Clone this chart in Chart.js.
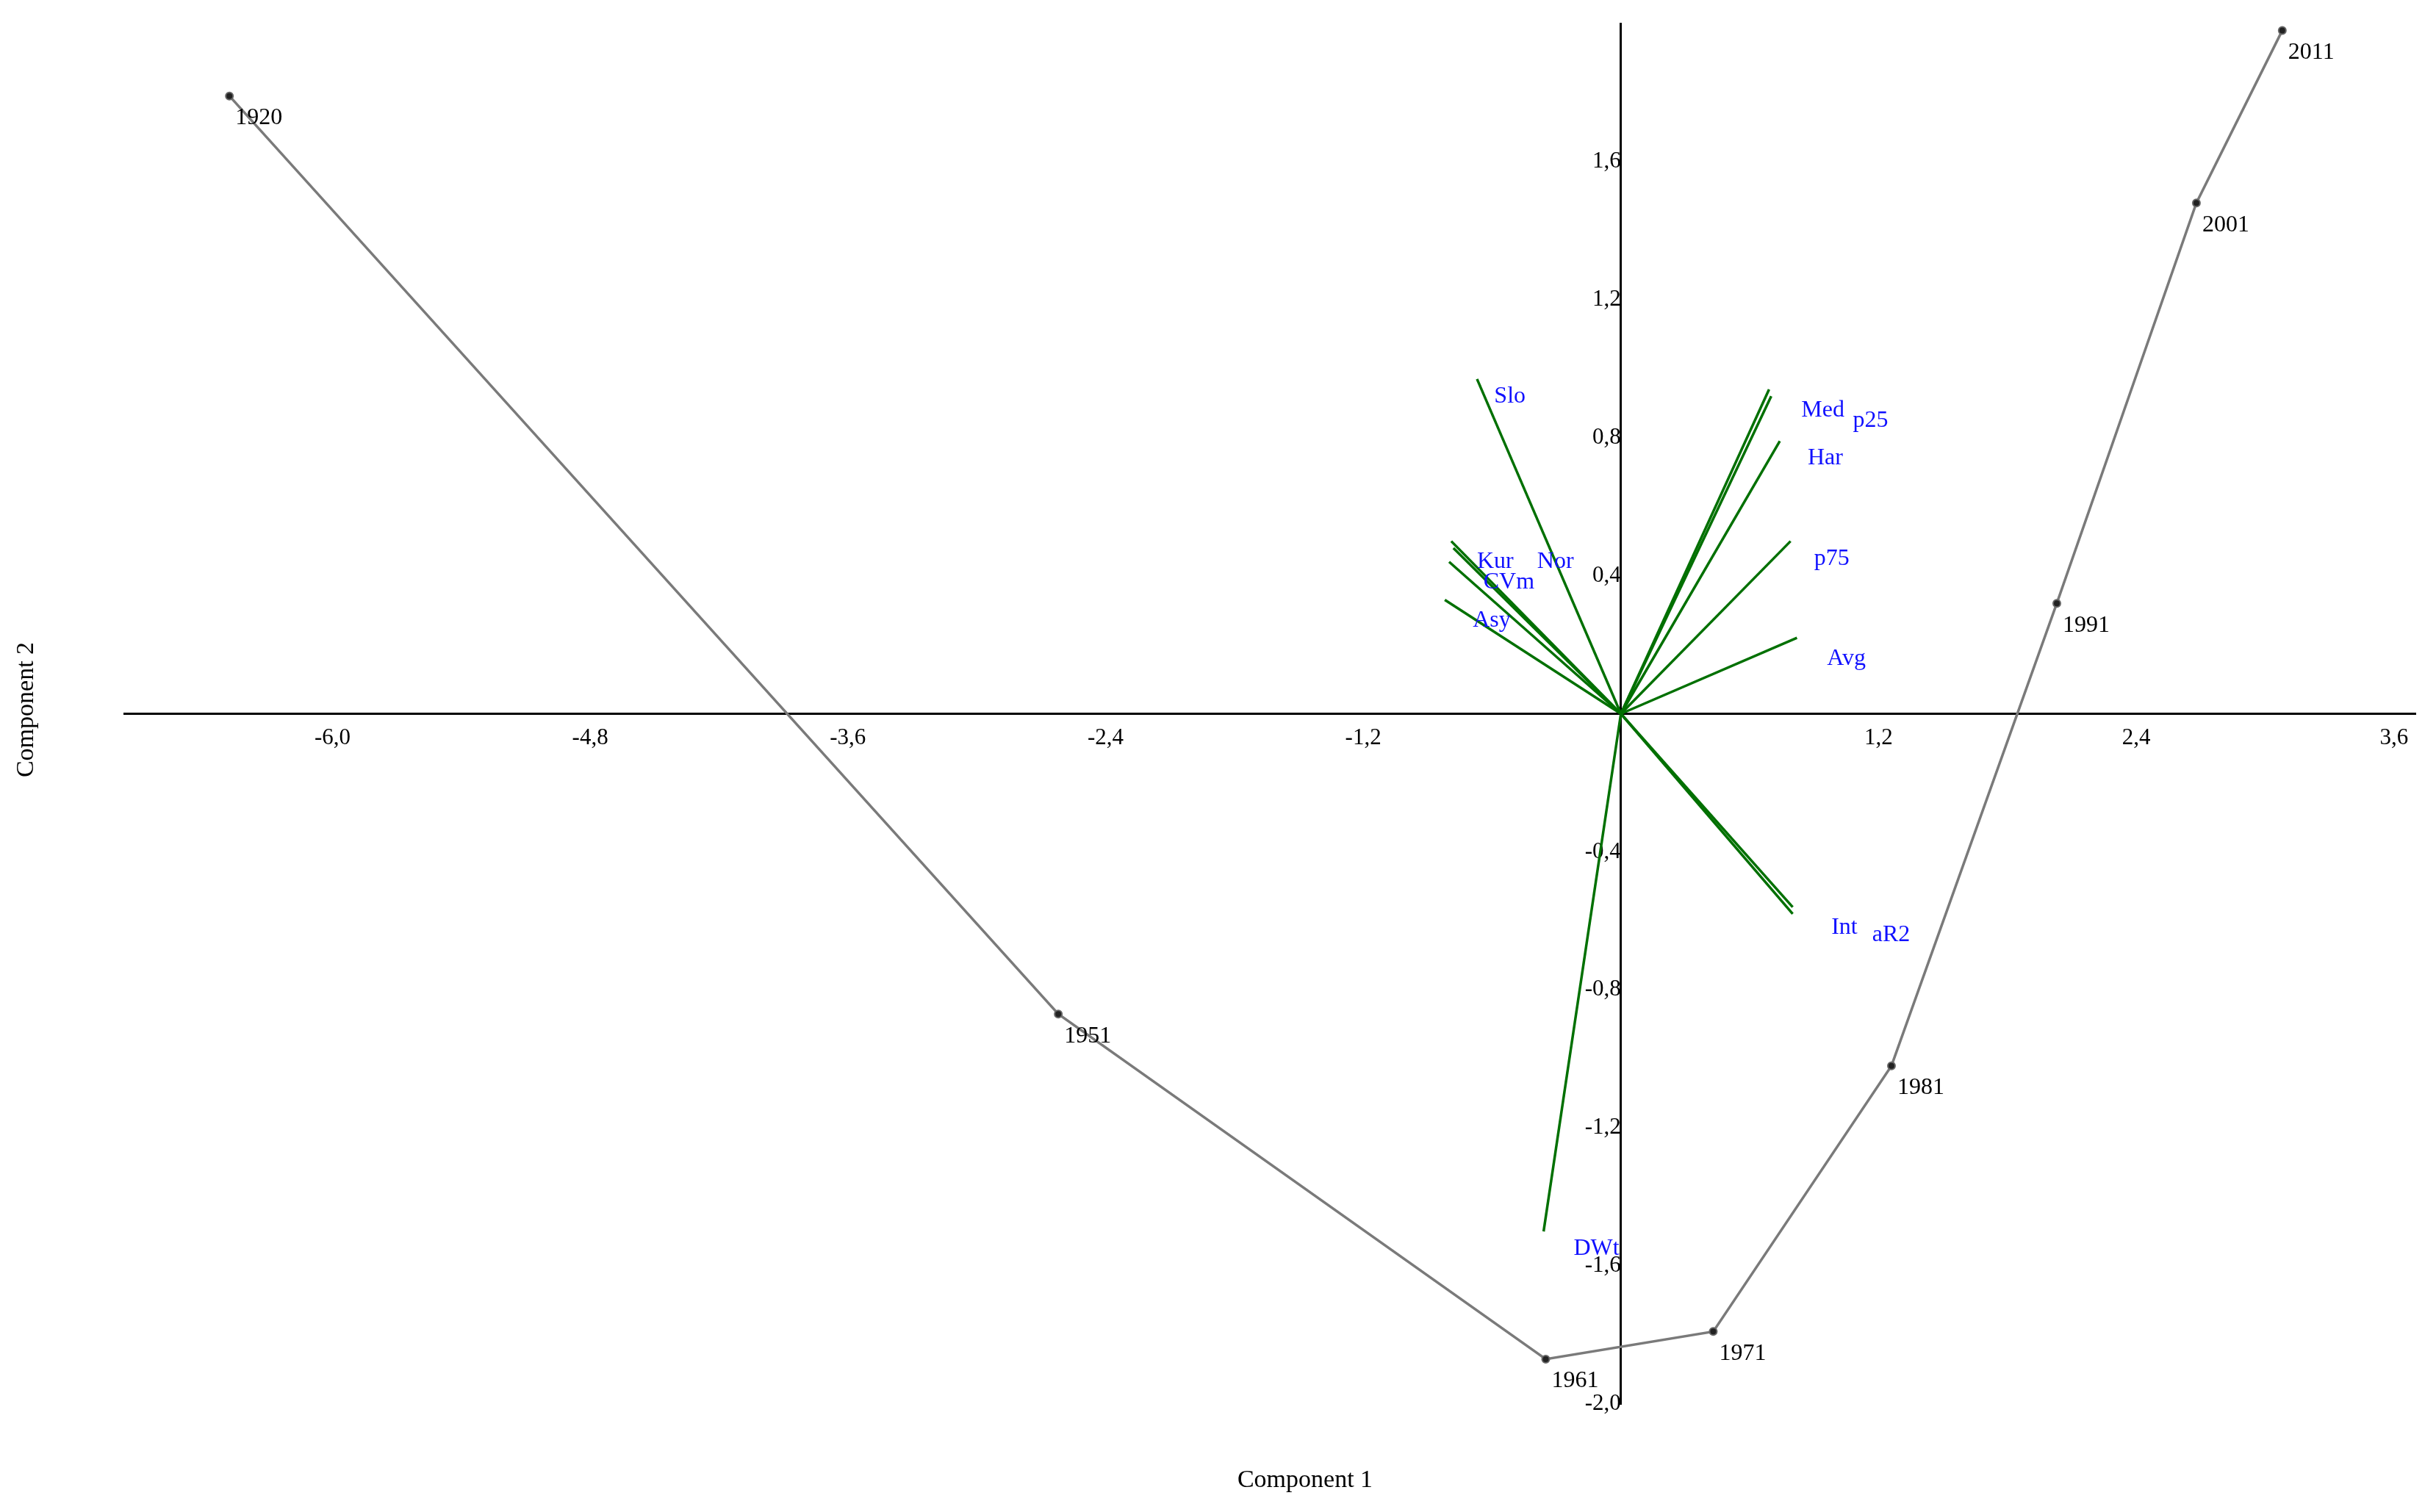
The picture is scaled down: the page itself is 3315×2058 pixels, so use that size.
<!DOCTYPE html>
<html>
<head>
<meta charset="utf-8">
<script src="https://cdn.jsdelivr.net/npm/chart.js@4"></script>
<style>
  html, body { margin: 0; padding: 0; background: #fff; }
  #wrap { width: 3315px; height: 2058px; }
</style>
</head>
<body>
<div id="wrap"><canvas id="pca"></canvas></div>
<script>
// year scores (component 1, component 2)
const years = ["1920", "1951", "1961", "1971", "1981", "1991", "2001", "2011"];
const yearX = [-6.48, -2.62, -0.35, 0.43, 1.26, 2.03, 2.68, 3.08];
const yearY = [1.79, -0.87, -1.87, -1.79, -1.02, 0.32, 1.48, 1.98];

// variable loadings (vector tips) and where their names sit
const vars = ["Slo", "Kur", "Nor", "CVm", "Asy", "Med", "p25", "Har", "p75", "Avg", "Int", "aR2", "DWt"];
const varX = [-0.67, -0.79, -0.78, -0.80, -0.82, 0.69, 0.70, 0.74, 0.79, 0.82, 0.80, 0.80, -0.36];
const varY = [0.97, 0.50, 0.48, 0.44, 0.33, 0.94, 0.92, 0.79, 0.50, 0.22, -0.56, -0.58, -1.50];
const labX = [-0.59, -0.67, -0.39, -0.64, -0.69, 0.84, 1.08, 0.87, 0.90, 0.96, 0.98, 1.17, -0.22];
const labY = [0.92, 0.44, 0.44, 0.38, 0.27, 0.88, 0.85, 0.74, 0.45, 0.16, -0.62, -0.64, -1.55];

const xTicks = [-6.0, -4.8, -3.6, -2.4, -1.2, 1.2, 2.4, 3.6];
const yTicks = [-2.0, -1.6, -1.2, -0.8, -0.4, 0.4, 0.8, 1.2, 1.6];

const FONT = "'Liberation Serif', 'DejaVu Serif', serif";
const comma = v => v.toFixed(1).replace(".", ",");

const datasets = vars.map((v, i) => ({
  label: v,
  data: [{ x: 0, y: 0 }, { x: varX[i], y: varY[i] }],
  showLine: true,
  borderColor: "#007000",
  borderWidth: 3.5,
  pointRadius: 0
}));
datasets.push({
  label: "years",
  data: years.map((y, i) => ({ x: yearX[i], y: yearY[i] })),
  showLine: true,
  borderColor: "#7a7a7a",
  borderWidth: 3.5,
  pointRadius: 5,
  pointBackgroundColor: "#222",
  pointBorderColor: "#666",
  pointBorderWidth: 2
});

// names of years and variables + axis titles
const labelPlugin = {
  id: "labels",
  afterDatasetsDraw(chart) {
    const { ctx, scales: { x, y } } = chart;
    ctx.save();
    ctx.font = "32px " + FONT;
    ctx.textBaseline = "middle";
    ctx.textAlign = "left";
    ctx.fillStyle = "#1010ff";
    vars.forEach((v, i) => ctx.fillText(v, x.getPixelForValue(labX[i]), y.getPixelForValue(labY[i])));
    ctx.fillStyle = "#000";
    years.forEach((t, i) => ctx.fillText(t, x.getPixelForValue(yearX[i]) + 8, y.getPixelForValue(yearY[i]) + 30));
    ctx.font = "34px " + FONT;
    ctx.textAlign = "center";
    ctx.fillText("Component 1", 1776, 2015);
    ctx.translate(36, 966);
    ctx.rotate(-Math.PI / 2);
    ctx.fillText("Component 2", 0, 0);
    ctx.restore();
  }
};

new Chart(document.getElementById("pca"), {
  type: "scatter",
  data: { datasets },
  plugins: [labelPlugin],
  options: {
    responsive: true,
    maintainAspectRatio: false,
    animation: false,
    layout: { padding: { left: 169, right: 28, top: 32, bottom: 147 } },
    plugins: { legend: { display: false }, tooltip: { enabled: false } },
    scales: {
      x: {
        type: "linear",
        position: { y: 0 },
        min: -6.97, max: 3.7,
        afterBuildTicks: s => { s.ticks = xTicks.map(v => ({ value: v })); },
        grid: { display: false, drawTicks: true, tickLength: 12, tickColor: "#000", tickWidth: 2 },
        border: { color: "#000", width: 3 },
        ticks: { color: "#000", font: { family: FONT, size: 31 }, callback: v => comma(v), autoSkip: false, maxRotation: 0 }
      },
      y: {
        type: "linear",
        position: { x: 0 },
        min: -2.0, max: 2.0,
        afterBuildTicks: s => { s.ticks = yTicks.map(v => ({ value: v })); },
        grid: { display: false, drawTicks: true, tickLength: 12, tickColor: "#000", tickWidth: 2 },
        border: { color: "#000", width: 3 },
        ticks: { color: "#000", font: { family: FONT, size: 31 }, callback: v => comma(v), autoSkip: false }
      }
    }
  }
});
</script>
</body>
</html>
